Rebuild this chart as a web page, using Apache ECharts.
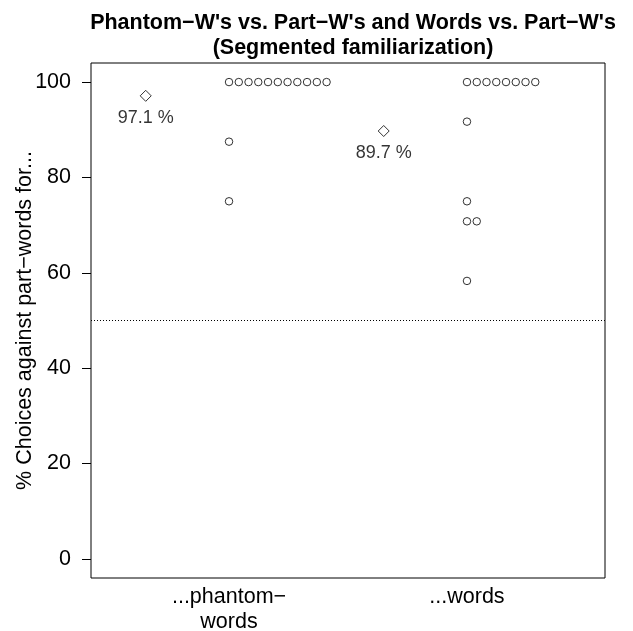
<!DOCTYPE html>
<html>
<head>
<meta charset="utf-8">
<script src="https://cdn.jsdelivr.net/npm/echarts@6/dist/echarts.min.js"></script>
<style>html,body{margin:0;padding:0;background:#fff}#c{width:633px;height:631px}</style>
</head>
<body>
<div id="c"></div>
<script>
// ---- data ----
const categories = ['...phantom\u2212\nwords', '...words'];
const phantomWordsScores = [100,100,100,100,100,100,100,100,100,100,100,87.5,75];
const wordsScores = [100,100,100,100,100,100,100,100,91.7,75,70.8,70.8,58.3];
const yTicks = [0, 20, 40, 60, 80, 100];
const chanceLevel = 50;
const titleText = 'Phantom\u2212W\'s vs. Part\u2212W\'s and Words vs. Part\u2212W\'s\n(Segmented familiarization)';
const yAxisTitle = '% Choices against part\u2212words for...';

// ---- layout helpers ----
const FONT = '"Liberation Sans", Arial, Helvetica, sans-serif';
const stackStep = 0.041;   // horizontal spacing of stacked equal values
const meanOffset = -0.35;  // mean diamond to the left of each group

function stacked(values, groupPos) {
  const counts = {};
  return values.map(v => {
    const k = counts[v] || 0;
    counts[v] = k + 1;
    return [groupPos + k * stackStep, v];
  });
}
const mean = a => a.reduce((s, v) => s + v, 0) / a.length;
const groups = [phantomWordsScores, wordsScores];
const meanData = groups.map((g, i) => [i + 1 + meanOffset, mean(g)]);

const circleSeries = groups.map((g, i) => ({
  type: 'scatter',
  data: stacked(g, i + 1),
  symbol: 'circle',
  symbolSize: 7.5,
  itemStyle: { color: 'rgba(0,0,0,0)', borderColor: '#000', borderWidth: 1 },
  silent: true,
  z: 3
}));

const chart = echarts.init(document.getElementById('c'), null, { renderer: 'canvas' });
chart.setOption({
  animation: false,
  backgroundColor: '#fff',
  textStyle: { fontFamily: FONT, color: '#000' },
  title: {
    text: titleText,
    left: 348,
    textAlign: 'center',
    top: 6,
    textStyle: { fontFamily: FONT, fontWeight: 'bold', fontSize: 21.5, lineHeight: 25, color: '#000' }
  },
  grid: {
    left: 91, top: 63, right: 28, bottom: 53,
    outerBoundsMode: 'none',
    containLabel: false,
    show: true, borderColor: '#000', borderWidth: 1, backgroundColor: 'transparent'
  },
  xAxis: {
    type: 'value',
    min: 0.42, max: 2.58,
    axisLine: { show: false },
    axisTick: { show: false },
    splitLine: { show: false },
    axisLabel: {
      customValues: [1, 2],
      formatter: v => categories[Math.round(v) - 1],
      fontFamily: FONT, fontSize: 21.5, lineHeight: 25, color: '#000', margin: 7
    }
  },
  yAxis: {
    type: 'value',
    min: -4, max: 104,
    name: yAxisTitle,
    nameLocation: 'middle',
    nameRotate: 90,
    nameGap: 55,
    nameMoveOverlap: false,
    nameTextStyle: { fontFamily: FONT, fontSize: 21.5, color: '#000' },
    axisLine: { show: false },
    splitLine: { show: false },
    axisTick: { show: true, customValues: yTicks, length: 9, lineStyle: { color: '#000', width: 1 } },
    axisLabel: { customValues: yTicks, fontFamily: FONT, fontSize: 21.5, color: '#000', margin: 20 }
  },
  series: [
    ...circleSeries,
    {
      type: 'scatter',
      data: meanData,
      symbol: 'diamond',
      symbolSize: [11, 11],
      itemStyle: { color: 'rgba(0,0,0,0)', borderColor: '#000', borderWidth: 1 },
      label: {
        show: true,
        position: 'bottom',
        distance: 7,
        formatter: p => p.value[1].toFixed(1) + ' %',
        fontFamily: FONT, fontSize: 18, color: '#000', textBorderWidth: 0
      },
      markLine: {
        silent: true,
        symbol: 'none',
        label: { show: false },
        lineStyle: { type: [1, 2], color: '#000', width: 1 },
        data: [{ yAxis: chanceLevel }]
      },
      z: 3
    }
  ]
});
</script>
</body>
</html>
